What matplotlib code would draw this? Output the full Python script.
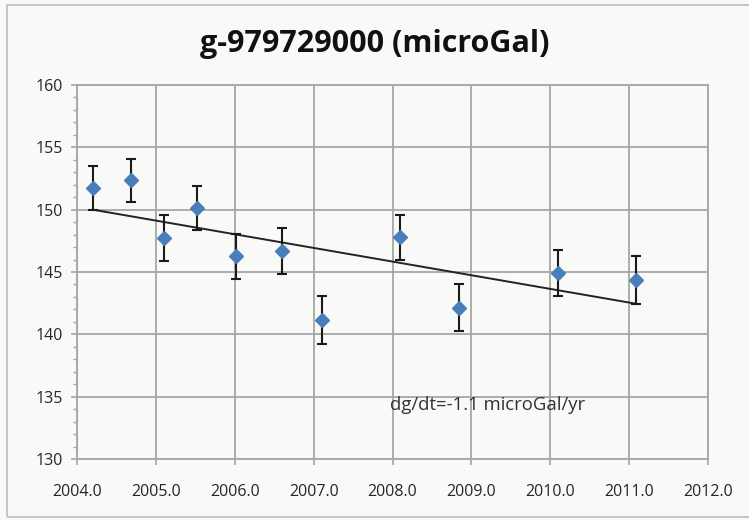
import matplotlib
matplotlib.use("Agg")
import matplotlib.pyplot as plt
from matplotlib.patches import Rectangle
from matplotlib.ticker import MultipleLocator, FormatStrFormatter

plt.rcParams['font.family'] = ['Open Sans', 'DejaVu Sans']

# Data
years = [2004.20, 2004.69, 2005.10, 2005.52, 2006.02, 2006.60, 2007.11,
         2008.10, 2008.84, 2010.10, 2011.09]
g_values = [151.75, 152.35, 147.7, 150.15, 146.25, 146.7, 141.15,
            147.8, 142.15, 144.95, 144.35]
g_errors = [1.75, 1.75, 1.85, 1.75, 1.8, 1.85, 1.9, 1.8, 1.9, 1.85, 1.9]
trend_x = [2004.20, 2011.09]
trend_y = [150.0, 142.45]
title = "g-979729000 (microGal)"
annotation = "dg/dt=-1.1 microGal/yr"

fig = plt.figure(figsize=(7.49, 5.20), dpi=100)
fig.patch.set_facecolor('#F9F9F7')
# outer chart frame
fig.patches.append(Rectangle((7/749, 1 - 517/520), 760/749, 512/520,
                             transform=fig.transFigure, fill=False,
                             edgecolor='#BDBDBD', linewidth=1.2))

ax = fig.add_axes([77/749, 1 - 459/520, (708 - 77)/749, (459 - 85)/520])
ax.set_facecolor('#F9F9F7')

ax.plot(trend_x, trend_y, color='#222222', linewidth=1.4, zorder=3)
ax.errorbar(years, g_values, yerr=g_errors, fmt='D', color='#4A7EBB',
            markersize=7.5, ecolor='#1a1a1a', elinewidth=1.5, capsize=3.5,
            capthick=1.5, zorder=4)

ax.set_xlim(2004.0, 2012.0)
ax.set_ylim(130, 160)
ax.xaxis.set_major_locator(MultipleLocator(1.0))
ax.xaxis.set_major_formatter(FormatStrFormatter('%.1f'))
ax.yaxis.set_major_locator(MultipleLocator(5))
ax.yaxis.set_minor_locator(MultipleLocator(1))

ax.grid(True, which='major', color='#A6A6A6', linewidth=1.3)
ax.set_axisbelow(True)
for s in ax.spines.values():
    s.set_color('#A6A6A6')
    s.set_linewidth(1.3)

ax.tick_params(axis='both', which='major', colors='#A6A6A6', labelcolor='#262626',
               labelsize=11.5, length=4, width=1.2)
ax.tick_params(axis='y', which='minor', colors='#A6A6A6', length=3, width=1.0)
ax.tick_params(axis='x', which='major', pad=14)
ax.tick_params(axis='y', which='major', pad=6)

ax.text(2007.97, 134.3, annotation, fontsize=13.3, color='#333333',
        ha='left', va='center')

fig.text(375/749, 1 - 44/520, title, fontsize=22, fontweight='bold',
         color='#111111', ha='center', va='center')

fig.savefig('out.png', dpi=100, facecolor=fig.get_facecolor())
